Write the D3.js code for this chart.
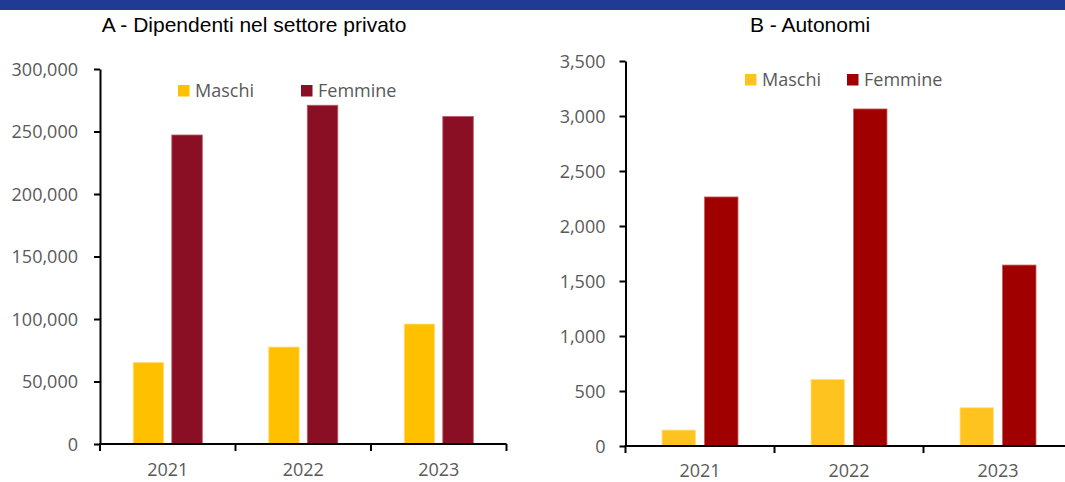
<!DOCTYPE html>
<html>
<head>
<meta charset="utf-8">
<script src="https://cdn.jsdelivr.net/npm/d3@7"></script>
<style>
  body { margin: 0; background: #fff; }
  svg { display: block; }
  .tick text { font-family: "Open Sans", sans-serif; font-size: 18px; fill: #595959; }
  .legend-text { font-family: "Open Sans", sans-serif; font-size: 18px; fill: #595959; }
  .panel-title { font-family: "Liberation Sans", Arial, sans-serif; font-size: 21px; fill: #000; }
</style>
</head>
<body>
<div class="chart"></div>
<script>
var svgWidth = 1065;
var svgHeight = 482;

// Data
var years = ["2021", "2022", "2023"];
var seriesNames = ["Maschi", "Femmine"];

var dipMaschi = [65300, 77600, 96000];
var dipFemmine = [247200, 271000, 262000];
var dipTicks = [0, 50000, 100000, 150000, 200000, 250000, 300000];

var autMaschi = [145, 606, 348];
var autFemmine = [2264, 3064, 1645];
var autTicks = [0, 500, 1000, 1500, 2000, 2500, 3000, 3500];

var svg = d3
  .select(".chart")
  .append("svg")
  .attr("width", svgWidth)
  .attr("height", svgHeight);

// Blue band across the top
svg.append("rect")
  .attr("x", 0)
  .attr("y", 0)
  .attr("width", svgWidth)
  .attr("height", 10)
  .attr("fill", "#213a93");

// Draws one panel: bars, axes, legend and title
function drawPanel(opts) {
  var g = svg.append("g");

  var yScale = d3.scaleLinear()
    .domain([0, opts.ticks[opts.ticks.length - 1]])
    .range([opts.bottom, opts.top]);

  var xScale = d3.scaleBand()
    .domain(years)
    .range([opts.left, opts.left + opts.band * 3])
    .paddingInner(0)
    .paddingOuter(0);

  var xSub = d3.scaleBand()
    .domain(seriesNames)
    .range([0, xScale.bandwidth()])
    .paddingInner(0.21)
    .paddingOuter(0.86);

  var rows = years.map(function(y, i) {
    return { year: y, Maschi: opts.maschi[i], Femmine: opts.femmine[i] };
  });

  var groups = g.selectAll(".yr")
    .data(rows)
    .enter()
    .append("g")
    .attr("transform", function(d) { return "translate(" + xScale(d.year) + ",0)"; });

  groups.selectAll("rect")
    .data(function(d) {
      return seriesNames.map(function(s) { return { key: s, value: d[s] }; });
    })
    .enter()
    .append("rect")
    .attr("x", function(d) { return xSub(d.key); })
    .attr("y", function(d) { return yScale(d.value); })
    .attr("width", xSub.bandwidth())
    .attr("height", function(d) { return opts.bottom - yScale(d.value); })
    .attr("fill", function(d) { return opts.colors[d.key]; })
    .attr("stroke", function(d) { return opts.edges[d.key]; })
    .attr("stroke-width", 0.8);

  // y axis
  var leftAxis = d3.axisLeft(yScale)
    .tickValues(opts.ticks)
    .tickSizeInner(6)
    .tickSizeOuter(0)
    .tickPadding(opts.tickPad)
    .tickFormat(d3.format(","));

  var yG = g.append("g")
    .attr("transform", "translate(" + opts.left + ",0)")
    .call(leftAxis);
  yG.select(".domain").attr("stroke", "#000").attr("stroke-width", 2);
  yG.selectAll(".tick line").attr("stroke", "#000").attr("stroke-width", 2);
  yG.selectAll(".tick text").attr("dy", "0.36em");

  // x axis: ticks sit at the band boundaries, labels at band centres
  var xG = g.append("g").attr("class", "x-axis");
  xG.append("line")
    .attr("x1", opts.left - 1)
    .attr("x2", Math.min(opts.left + opts.band * 3, svgWidth + 5))
    .attr("y1", opts.bottom)
    .attr("y2", opts.bottom)
    .attr("stroke", "#000")
    .attr("stroke-width", 2);

  var bounds = years.map(function(y) { return xScale(y); })
    .concat([opts.left + opts.band * 3]);
  xG.selectAll(".xtick")
    .data(bounds)
    .enter()
    .append("line")
    .attr("x1", function(d) { return d; })
    .attr("x2", function(d) { return d; })
    .attr("y1", opts.bottom)
    .attr("y2", opts.bottom + 7)
    .attr("stroke", "#000")
    .attr("stroke-width", 2);

  xG.selectAll(".xlab")
    .data(years)
    .enter()
    .append("text")
    .attr("class", "legend-text")
    .attr("x", function(d) { return xScale(d) + xScale.bandwidth() / 2; })
    .attr("y", opts.labelY)
    .attr("text-anchor", "middle")
    .text(function(d) { return d; });

  // legend
  var leg = g.append("g");
  seriesNames.forEach(function(s, i) {
    leg.append("rect")
      .attr("x", opts.legX[i])
      .attr("y", opts.legY)
      .attr("width", 11.5)
      .attr("height", 11.5)
      .attr("fill", opts.colors[s]);
    leg.append("text")
      .attr("class", "legend-text")
      .attr("x", opts.legX[i] + 17)
      .attr("y", opts.legY + 12)
      .text(s);
  });

  // panel title
  g.append("text")
    .attr("class", "panel-title")
    .attr("x", opts.titleX)
    .attr("y", 32)
    .attr("text-anchor", "middle")
    .text(opts.title);
}

drawPanel({
  title: "A - Dipendenti nel settore privato",
  titleX: 254,
  left: 100,
  band: 135.5,
  top: 69,
  bottom: 444,
  ticks: dipTicks,
  tickPad: 16,
  maschi: dipMaschi,
  femmine: dipFemmine,
  colors: { Maschi: "#ffc000", Femmine: "#8b0f24" },
  edges: { Maschi: "#ffe08a", Femmine: "#b85a6a" },
  labelY: 476,
  legX: [178, 301],
  legY: 85
});

drawPanel({
  title: "B - Autonomi",
  titleX: 810,
  left: 625.5,
  band: 149,
  top: 61,
  bottom: 446,
  ticks: autTicks,
  tickPad: 14,
  maschi: autMaschi,
  femmine: autFemmine,
  colors: { Maschi: "#ffc31f", Femmine: "#a00000" },
  edges: { Maschi: "#ffe28a", Femmine: "#c86060" },
  labelY: 477,
  legX: [745, 847],
  legY: 74
});
</script>
</body>
</html>
